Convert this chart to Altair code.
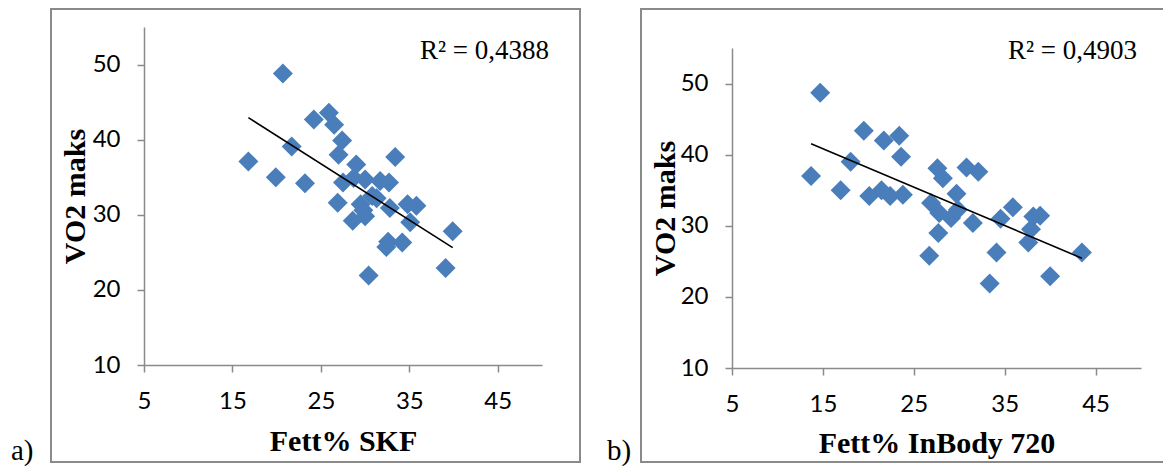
import altair as alt
import pandas as pd

# ---- data ----
skf_fat = [20.7, 16.8, 19.9, 21.7, 23.2, 24.2, 25.9, 26.5, 27.4, 27.0, 29.0, 28.7,
           27.5, 30.0, 31.7, 32.7, 33.4, 30.8, 29.5, 26.9, 30.0, 28.6, 32.8, 34.8,
           35.8, 35.1, 32.6, 32.4, 34.2, 39.9, 39.1, 30.4, 31.3, 29.8]
skf_vo2 = [48.8, 37.1, 35.0, 39.1, 34.2, 42.7, 43.6, 42.0, 39.9, 38.0, 36.7, 34.9,
           34.3, 34.7, 34.5, 34.3, 37.7, 32.5, 31.4, 31.6, 29.8, 29.2, 30.9, 31.4,
           31.2, 29.0, 26.4, 25.7, 26.3, 27.8, 22.9, 21.9, 32.2, 30.6]

inbody_fat = [14.7, 13.7, 19.5, 21.7, 23.4, 23.6, 18.05, 16.95, 20.1, 21.45, 22.4, 23.8,
              27.6, 28.2, 30.8, 32.1, 29.7, 26.9, 27.8, 29.1, 29.85, 31.5, 27.7, 26.7,
              34.55, 35.9, 38.15, 38.9, 37.9, 37.6, 34.1, 33.35, 40.0, 43.5]
inbody_vo2 = [48.7, 37.0, 43.35, 42.0, 42.65, 39.7, 39.0, 35.0, 34.2, 35.0, 34.2, 34.35,
              38.1, 36.7, 38.2, 37.6, 34.5, 33.2, 31.8, 31.1, 32.25, 30.4, 29.0, 25.8,
              31.0, 32.6, 31.3, 31.4, 29.5, 27.65, 26.25, 21.9, 22.9, 26.25]

x_titles = ["Fett% SKF", "Fett% InBody 720"]
y_title = "VO2 maks"
r2_labels = ["R² = 0,4388", "R² = 0,4903"]
panel_labels = ["a)", "b)"]
x_ticks = [5, 15, 25, 35, 45]
y_ticks = [10, 20, 30, 40, 50]
x_domain = [5, 50]
y_domain = [10, 55]

W, H = 1163, 468
GRAY = "#8A8A8A"
BLUE = "#4A7EBB"


def panel(fat, vo2, xtitle, r2, label, xr, yr, title_x, title_y, r2_x, label_x, box):
    df = pd.DataFrame({"fat": fat, "vo2": vo2})
    xs = alt.Scale(domain=x_domain, range=xr, nice=False, zero=False)
    ys = alt.Scale(domain=y_domain, range=yr, nice=False, zero=False)
    xa = alt.Axis(values=x_ticks, title=xtitle, orient="bottom", offset=yr[0] - H,
                  labelFlush=False, labelOverlap=False, labelPadding=17,
                  titleY=title_y, titleBaseline="alphabetic")
    ya = alt.Axis(values=y_ticks, title=y_title, orient="left", offset=-xr[0],
                  labelFlush=False, labelOverlap=False, labelPadding=17,
                  titleX=title_x, titleBaseline="alphabetic")
    enc_x = alt.X("fat:Q", scale=xs, axis=xa)
    enc_y = alt.Y("vo2:Q", scale=ys, axis=ya)

    pts = alt.Chart(df).mark_point(shape="diamond", filled=True, size=400,
                                    color=BLUE, opacity=1).encode(x=enc_x, y=enc_y)
    line = alt.Chart(df).transform_regression("fat", "vo2").mark_line(
        color="black", strokeWidth=1.6).encode(x=enc_x, y=enc_y)
    r2t = alt.Chart(pd.DataFrame({"t": [r2]})).mark_text(
        align="right", baseline="alphabetic", font="Liberation Serif",
        fontSize=27, color="black").encode(x=alt.value(r2_x), y=alt.value(59), text="t:N")
    lab = alt.Chart(pd.DataFrame({"t": [label]})).mark_text(
        align="left", baseline="alphabetic", font="Liberation Serif",
        fontSize=29, color="black").encode(x=alt.value(label_x), y=alt.value(460), text="t:N")
    frame = alt.Chart(pd.DataFrame({"t": [0]})).mark_rect(
        fillOpacity=0, stroke=GRAY, strokeWidth=2).encode(
        x=alt.value(box[0]), x2=alt.value(box[1]), y=alt.value(box[2]), y2=alt.value(box[3]))
    return alt.layer(frame, pts, line, r2t, lab)


left = panel(skf_fat, skf_vo2, x_titles[0], r2_labels[0], panel_labels[0],
             [144, 542], [365, 27], -60, 85, 549, 11, [51, 580, 9, 462])
right = panel(inbody_fat, inbody_vo2, x_titles[1], r2_labels[1], panel_labels[1],
              [732, 1141], [368, 48], -58, 84, 1137, 607, [641, 1175, 9, 462])

chart = alt.layer(left, right).resolve_scale(x="independent", y="independent").properties(
    width=W, height=H, autosize=alt.AutoSizeParams(type="none"), padding=0,
    background="white"
).configure_view(strokeWidth=0).configure_axis(
    grid=False, domainColor=GRAY, domainWidth=1.5, tickColor=GRAY, tickWidth=1.5,
    tickSize=7, labelFont="Lato", labelFontSize=24, labelColor="black",
    titleFont="Liberation Serif", titleFontSize=30, titleFontWeight="bold",
    titleColor="black"
)

chart.save("out.html", embed_options={"renderer": "svg", "actions": False})
